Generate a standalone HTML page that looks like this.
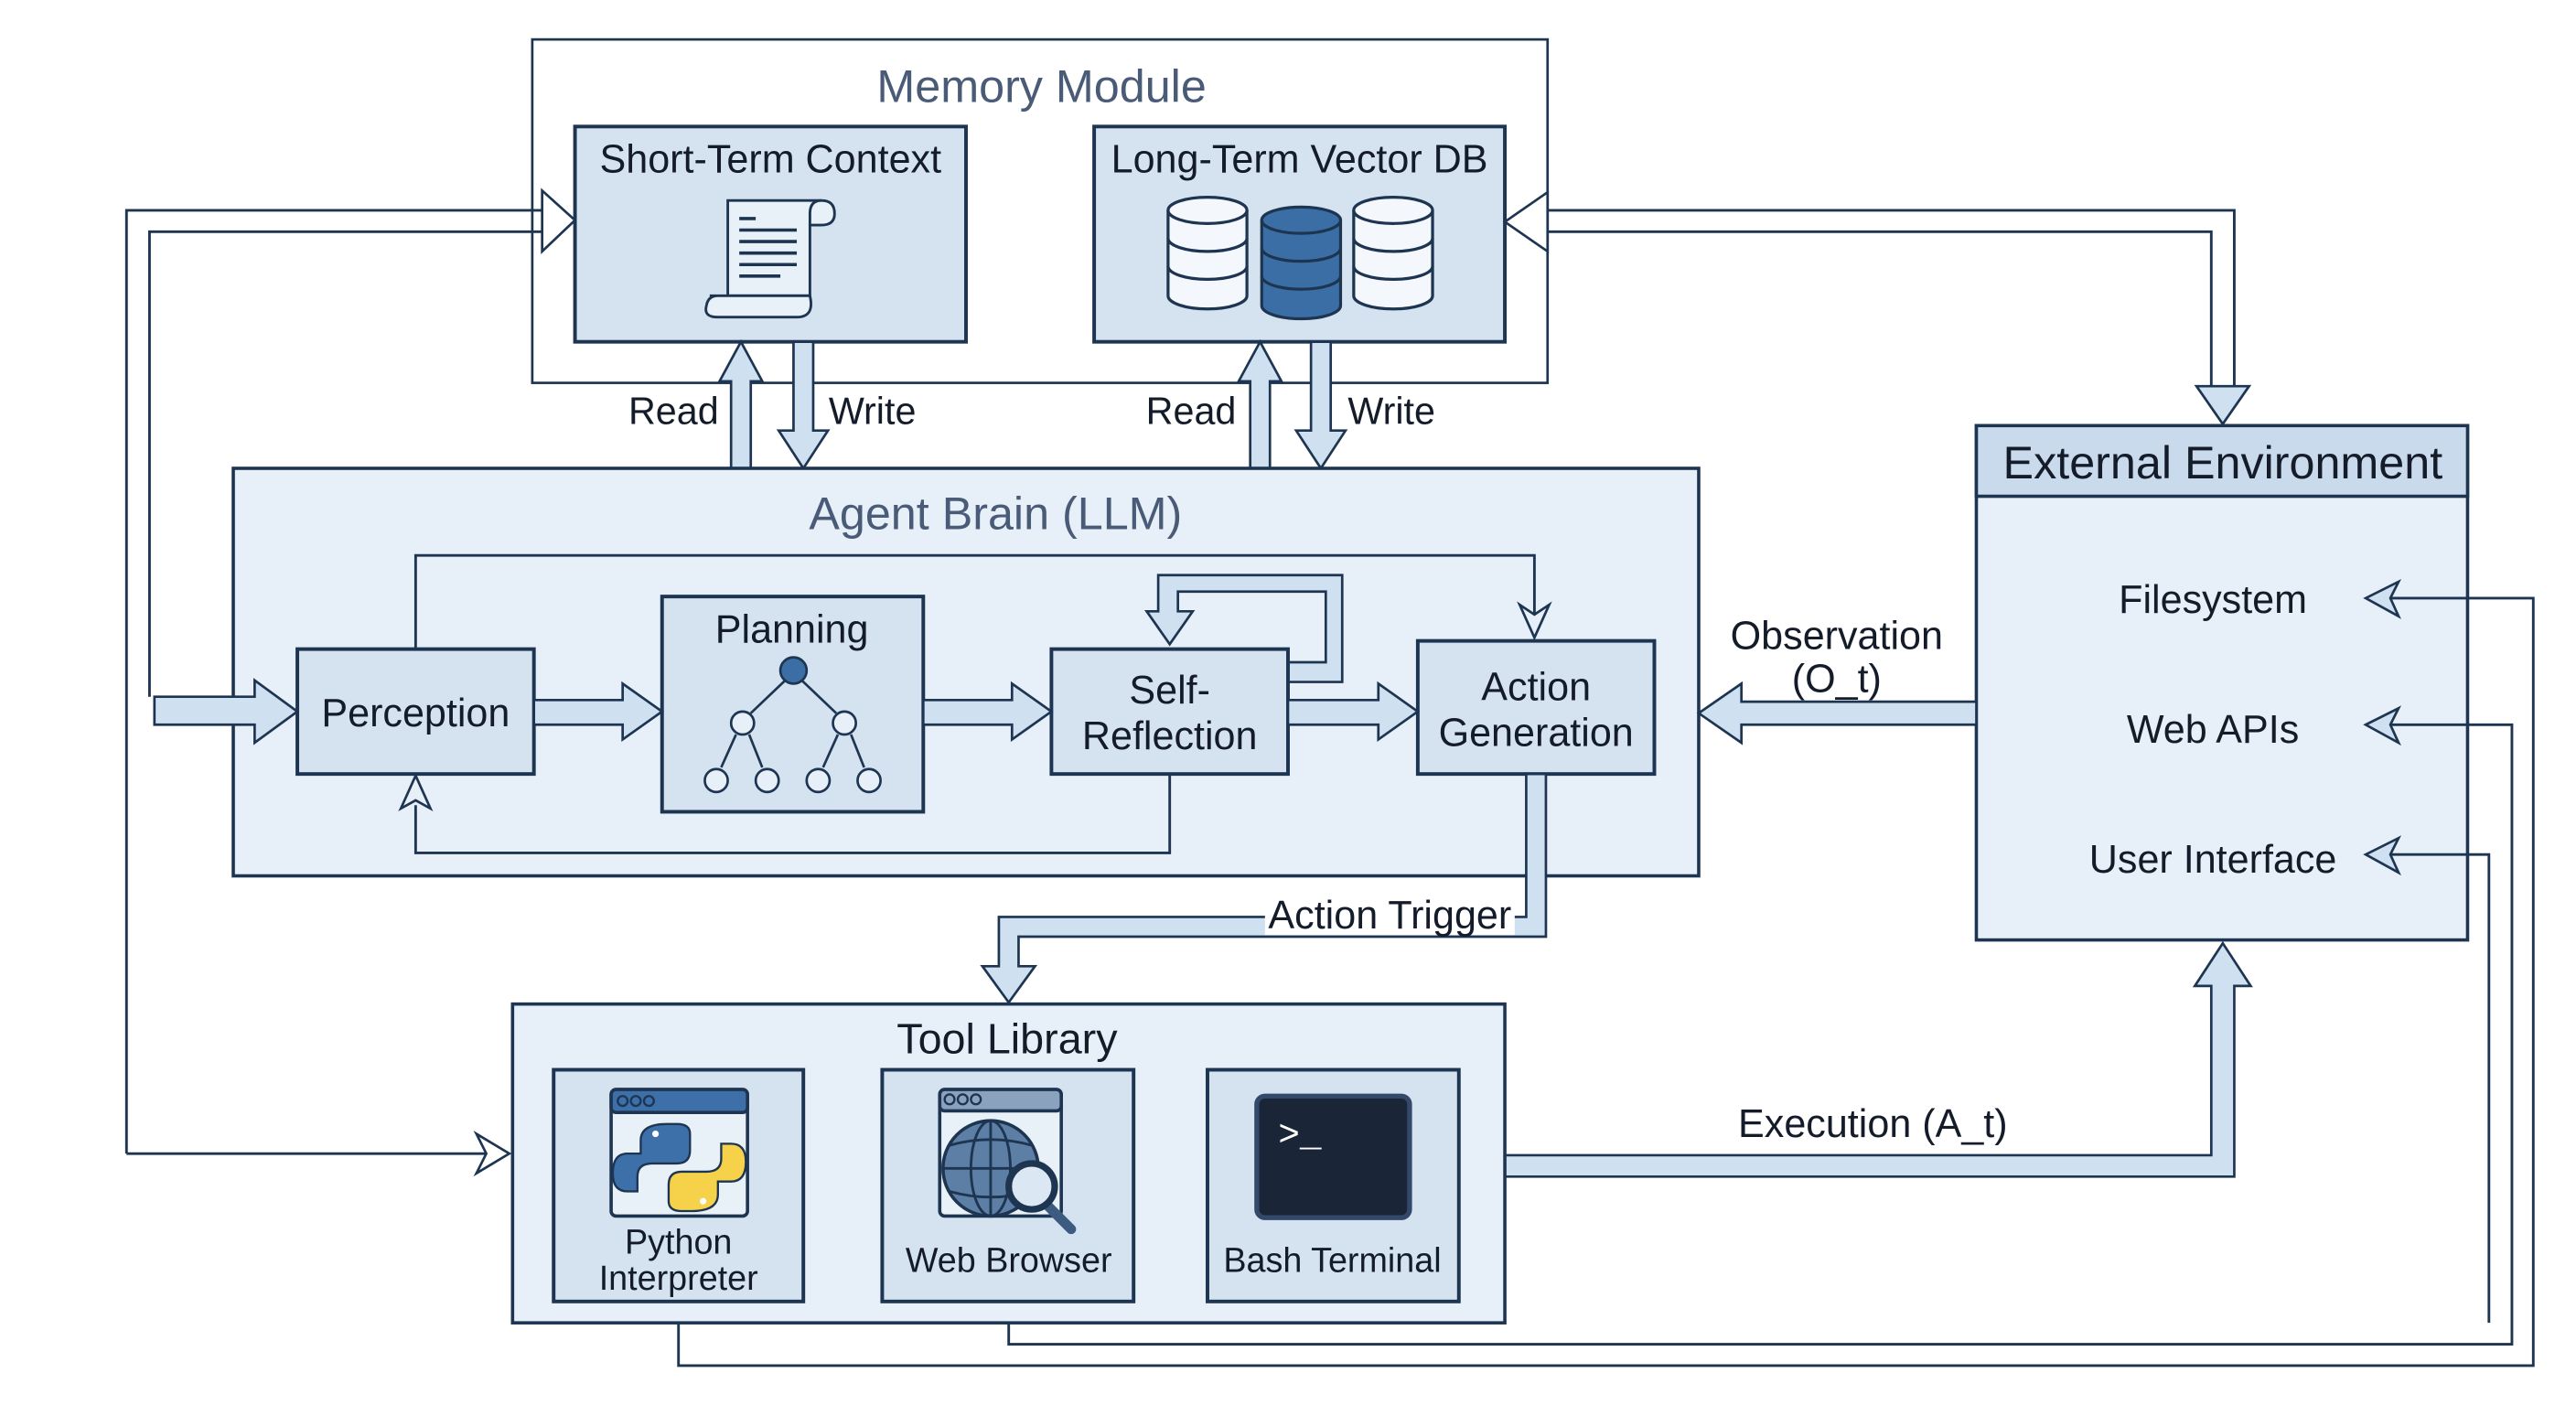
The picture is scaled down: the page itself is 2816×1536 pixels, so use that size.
<!DOCTYPE html>
<html><head><meta charset="utf-8"><style>
html,body{margin:0;padding:0;background:#fff;}
svg{display:block;}
text{font-family:"Liberation Sans",Arial,sans-serif;}
</style></head><body>
<svg width="2816" height="1536" viewBox="0 0 1568 855" preserveAspectRatio="none" xmlns="http://www.w3.org/2000/svg">
<defs>
<style>
.bx{fill:#d5e3f1;stroke:#1e3552;stroke-width:2.2}
.lt{fill:#e7f0f9;stroke:#1e3552;stroke-width:2}
.ar{fill:#cfe0f0;stroke:#1e3552;stroke-width:1.5;stroke-linejoin:miter}
.ln{fill:none;stroke:#1e3552;stroke-width:1.6}
.t{fill:#141c2a;font-size:24px;text-anchor:middle}
.tt{fill:#4a5b78;font-size:28px;text-anchor:middle}
</style>
</defs>
<rect width="1568" height="855" fill="#fff"/>

<!-- Memory module -->
<rect x="324" y="24" width="618" height="209" fill="#fff" stroke="#1e3552" stroke-width="1.5"/>
<text x="634" y="62" class="tt">Memory Module</text>
<rect x="350" y="77" width="238" height="131" class="bx"/>
<text x="469" y="105" class="t">Short-Term Context</text>
<rect x="666" y="77" width="250" height="131" class="bx"/>
<text x="791" y="105" class="t">Long-Term Vector DB</text>

<!-- scroll icon -->
<g fill="#e8f0f8" stroke="#1e3552" stroke-width="1.6">
<path d="M443,122 L500,122 Q508,122 508,130 Q508,137 500,137 L493,137 L493,180 L443,180 Z"/>
<path d="M500,122 Q493,122 493,130 L493,137"/>
<path d="M432,180 L493,180 Q496,193 485,193 L437,193 Q428,193 430,186 Q431,180 437,180"/>
</g>
<g stroke="#1e3552" stroke-width="2">
<line x1="450" y1="133" x2="460" y2="133"/><line x1="450" y1="140" x2="485" y2="140"/><line x1="450" y1="147" x2="485" y2="147"/><line x1="450" y1="154" x2="485" y2="154"/><line x1="450" y1="161" x2="485" y2="161"/><line x1="450" y1="168" x2="475" y2="168"/>
</g>

<!-- DB cylinders -->
<g stroke="#1e3552" stroke-width="1.8">
<g fill="#f4f8fc">
<path d="M711,128 L711,180 A24,8 0 0 0 759,180 L759,128"/>
<ellipse cx="735" cy="128" rx="24" ry="8"/>
<path d="M711,145 A24,8 0 0 0 759,145 M711,162 A24,8 0 0 0 759,162" fill="none"/>
<path d="M824,128 L824,180 A24,8 0 0 0 872,180 L872,128"/>
<ellipse cx="848" cy="128" rx="24" ry="8"/>
<path d="M824,145 A24,8 0 0 0 872,145 M824,162 A24,8 0 0 0 872,162" fill="none"/>
</g>
<g fill="#3a6ea5">
<path d="M768,134 L768,186 A24,8 0 0 0 816,186 L816,134"/>
<ellipse cx="792" cy="134" rx="24" ry="8"/>
<path d="M768,151 A24,8 0 0 0 816,151 M768,168 A24,8 0 0 0 816,168" fill="none"/>
</g>
</g>

<!-- Read/Write arrows -->
<polygon class="ar" points="445,285 445,232 438,232 451,208 464,232 457,232 457,285"/>
<polygon class="ar" points="483,208 483,262 474,262 489,285 504,262 495,262 495,208"/>
<polygon class="ar" points="761,285 761,232 754,232 767,208 780,232 773,232 773,285"/>
<polygon class="ar" points="798,208 798,262 789,262 804,285 819,262 810,262 810,208"/>
<text x="410" y="258" class="t" style="font-size:23px">Read</text>
<text x="531" y="258" class="t" style="font-size:23px">Write</text>
<text x="725" y="258" class="t" style="font-size:23px">Read</text>
<text x="847" y="258" class="t" style="font-size:23px">Write</text>

<!-- Agent brain -->
<rect x="142" y="285" width="892" height="248" class="lt"/>
<text x="606" y="322" class="tt">Agent Brain (LLM)</text>

<path class="ln" d="M253,395 L253,338 L934,338 L934,378"/>
<polygon points="925,368 934,388 943,368 934,374" fill="#e7f0f9" stroke="#1e3552" stroke-width="1.5"/>
<path class="ln" d="M712,471 L712,519 L253,519 L253,490"/>
<polygon points="244,492 253,472 262,492 253,487" fill="#e7f0f9" stroke="#1e3552" stroke-width="1.5"/>
<polygon class="ar" points="784,403 807,403 807,360 717,360 717,372 726,372 712,392 698,372 705,372 705,350 817,350 817,415 784,415"/>

<rect x="181" y="395" width="144" height="76" class="bx"/>
<text x="253" y="442" class="t">Perception</text>
<rect x="403" y="363" width="159" height="131" class="bx"/>
<text x="482" y="391" class="t">Planning</text>
<rect x="640" y="395" width="144" height="76" class="bx"/>
<text x="712" y="428" class="t">Self-</text>
<text x="712" y="456" class="t">Reflection</text>
<rect x="863" y="390" width="144" height="81" class="bx"/>
<text x="935" y="426" class="t">Action</text>
<text x="935" y="454" class="t">Generation</text>

<!-- tree -->
<g stroke="#1e3552" stroke-width="1.5" fill="none">
<line x1="478" y1="414" x2="457" y2="434"/><line x1="488" y1="414" x2="509" y2="434"/>
<line x1="448" y1="447" x2="439" y2="467"/><line x1="456" y1="447" x2="464" y2="467"/>
<line x1="510" y1="447" x2="501" y2="467"/><line x1="518" y1="447" x2="526" y2="467"/>
<circle cx="452" cy="440" r="7" fill="#e7f0f9"/><circle cx="514" cy="440" r="7" fill="#e7f0f9"/>
<circle cx="436" cy="475" r="7" fill="#e7f0f9"/><circle cx="467" cy="475" r="7" fill="#e7f0f9"/>
<circle cx="498" cy="475" r="7" fill="#e7f0f9"/><circle cx="529" cy="475" r="7" fill="#e7f0f9"/>
<circle cx="483" cy="408" r="8" fill="#3a6ea5"/>
</g>

<polygon class="ar" points="325,426 379,426 379,416 403,433 379,450 379,441 325,441"/>
<polygon class="ar" points="562,426 616,426 616,416 640,433 616,450 616,441 562,441"/>
<polygon class="ar" points="784,426 839,426 839,416 863,433 839,450 839,441 784,441"/>

<!-- left corridor -->
<path class="ln" d="M77,702 L77,128 L330,128"/>
<path class="ln" d="M91,424 L91,141 L330,141"/>
<polygon points="330,128 330,116 350,134 330,153 330,141" fill="#fff" stroke="#1e3552" stroke-width="1.5"/>
<polygon class="ar" points="94,424 155,424 155,414 181,433 155,452 155,441 94,441"/>
<path class="ln" d="M77,702 L300,702"/>
<polygon points="290,690 310,702 290,714 296,702" fill="#fff" stroke="#1e3552" stroke-width="1.5"/>

<!-- right corridor -->
<path class="ln" d="M1360,236 L1360,128 L940,128 M1346,236 L1346,141 L940,141"/>
<polygon points="942,128 942,117 916,135 942,153 942,141" fill="#fff" stroke="#1e3552" stroke-width="1.5"/>
<polygon class="ar" points="1346,235 1337,235 1353,258 1369,235 1360,235"/>

<!-- External environment -->
<rect x="1203" y="259" width="299" height="313" class="lt"/>
<rect x="1203" y="259" width="299" height="43" fill="#c9daec" stroke="#1e3552" stroke-width="2"/>
<text x="1353" y="291" class="t" style="font-size:28px">External Environment</text>
<text x="1347" y="373" class="t">Filesystem</text>
<text x="1347" y="452" class="t">Web APIs</text>
<text x="1347" y="531" class="t">User Interface</text>
<g fill="#cfe0f0" stroke="#1e3552" stroke-width="1.5">
<polygon points="1440,364 1460,354 1455,364 1460,375"/>
<polygon points="1440,441 1460,431 1455,441 1460,452"/>
<polygon points="1440,520 1460,510 1455,520 1460,531"/>
</g>
<path class="ln" d="M1455,364 L1542,364 L1542,831 L413,831 L413,792"/>
<path class="ln" d="M1455,441 L1529,441 L1529,818 L614,818 L614,792"/>
<path class="ln" d="M1455,520 L1515,520 L1515,805"/>

<!-- Observation -->
<polygon class="ar" points="1203,427 1060,427 1060,416 1034,434 1060,452 1060,441 1203,441"/>
<text x="1118" y="395" class="t">Observation</text>
<text x="1118" y="421" class="t">(O_t)</text>

<!-- Action trigger -->
<polygon class="ar" points="929,471 929,558 608,558 608,588 598,588 614,610 630,588 620,588 620,570 941,570 941,471"/>
<rect x="770" y="543" width="152" height="26" fill="#fff"/>
<text x="846" y="565" class="t">Action Trigger</text>

<!-- Execution -->
<polygon class="ar" points="916,703 1346,703 1346,600 1336,600 1353,574 1370,600 1360,600 1360,716 916,716"/>
<text x="1140" y="692" class="t">Execution (A_t)</text>

<!-- Tool library -->
<rect x="312" y="611" width="604" height="194" class="lt"/>
<text x="613" y="641" class="t" style="font-size:26px">Tool Library</text>
<rect x="337" y="651" width="152" height="141" class="bx"/>
<rect x="537" y="651" width="153" height="141" class="bx"/>
<rect x="735" y="651" width="153" height="141" class="bx"/>
<text x="413" y="763" class="t" style="font-size:21px">Python</text>
<text x="413" y="785" class="t" style="font-size:21px">Interpreter</text>
<text x="614" y="774" class="t" style="font-size:21px">Web Browser</text>
<text x="811" y="774" class="t" style="font-size:21px">Bash Terminal</text>

<!-- python icon -->
<rect x="372" y="663" width="83" height="77" rx="3" fill="#e8f0f8" stroke="#1e3552" stroke-width="2"/>
<rect x="372" y="663" width="83" height="14" rx="3" fill="#3d6fa8" stroke="#1e3552" stroke-width="2"/>
<g fill="none" stroke="#1e3552" stroke-width="1.3"><circle cx="379" cy="670" r="3"/><circle cx="387" cy="670" r="3"/><circle cx="395" cy="670" r="3"/></g>
<path d="M406,684 Q390,684 390,694 L390,702 L382,702 Q373,702 373,714 Q373,725 382,725 L388,725 L388,716 Q388,708 397,708 L412,708 Q420,708 420,700 L420,690 Q420,684 412,684 Z" fill="#3d6fa8" stroke="#1e3552" stroke-width="1.3"/>
<path d="M421,737 Q437,737 437,727 L437,719 L445,719 Q454,719 454,707 Q454,696 445,696 L439,696 L439,705 Q439,713 430,713 L415,713 Q407,713 407,721 L407,731 Q407,737 415,737 Z" fill="#f5d24a" stroke="#1e3552" stroke-width="1.3"/>
<circle cx="399" cy="690" r="2" fill="#fff"/><circle cx="428" cy="731" r="2" fill="#fff"/>

<!-- browser icon -->
<rect x="572" y="663" width="74" height="77" rx="3" fill="#e8f0f8" stroke="#1e3552" stroke-width="2"/>
<rect x="572" y="663" width="74" height="13" rx="3" fill="#8aa2bd" stroke="#1e3552" stroke-width="2"/>
<g fill="none" stroke="#1e3552" stroke-width="1.3"><circle cx="578" cy="669" r="3"/><circle cx="586" cy="669" r="3"/><circle cx="594" cy="669" r="3"/></g>
<circle cx="603" cy="711" r="29" fill="#5d7fa6" stroke="#1e3552" stroke-width="2"/>
<g fill="none" stroke="#1e3552" stroke-width="1.6">
<ellipse cx="603" cy="711" rx="12" ry="29"/><line x1="603" y1="682" x2="603" y2="740"/>
<path d="M578,697 Q603,690 628,697 M574,711 L632,711 M578,725 Q603,732 628,725"/>
</g>
<line x1="637" y1="733" x2="652" y2="748" stroke="#3d5a80" stroke-width="6" stroke-linecap="round"/>
<circle cx="628" cy="722" r="14" fill="#dbe7f3" stroke="#1e3552" stroke-width="4"/>

<!-- terminal -->
<rect x="765" y="667" width="93" height="74" rx="5" fill="#1a2538" stroke="#34486a" stroke-width="3"/>
<text x="778" y="697" style="font-size:22px;fill:#fff;font-family:'Liberation Mono',monospace">&gt;_</text>
</svg>
</body></html>
